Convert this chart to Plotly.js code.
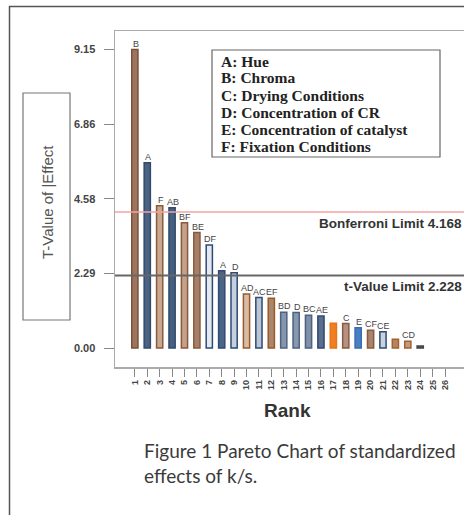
<!DOCTYPE html>
<html>
<head>
<meta charset="utf-8">
<script src="https://cdn.plot.ly/plotly-3.0.1.min.js"></script>
<style>
html,body{margin:0;padding:0;background:#fff;overflow:hidden;}
#chart{width:464px;height:515px;}
</style>
</head>
<body>
<div id="chart"></div>
<script>
// ---- data ----
var ranks = [1,2,3,4,5,6,7,8,9,10,11,12,13,14,15,16,17,18,19,20,21,22,23,24];
var tValues = [9.15,5.68,4.36,4.30,3.84,3.54,3.16,2.37,2.31,1.66,1.55,1.53,1.10,1.09,1.01,0.98,0.76,0.75,0.62,0.55,0.50,0.27,0.21,0.06];
var effectLabels = ["B","A","F","AB","BF","BE","DF","A","D","AD","AC","EF","BD","D","BC","AE","","C","E","CF","CE","","CD",""];
var fillColors = ["#9c7560","#4a6283","#c9a891","#46607f","#c4a18a","#a57f69","#e4e9f0","#4b6587","#c5d0de","#d8bca6","#b9c6d6","#a98670","#8595ab","#8898ae","#7f90a7","#5a6f8d","#f17f22","#b39282","#4a7fc4","#a98470","#c8d2df","#b8835e","#c49a7c","#555555"];
var lineColors = ["#7d5036","#33496a","#8a5a3b","#33496a","#8a5a3b","#8a5a3b","#2f4a74","#2f4a74","#2f4a74","#9a5a2c","#2f4a74","#a0581e","#4e6180","#4e6180","#4e6180","#2f4a74","#e97316","#8a5a3b","#3a6db0","#8a5a3b","#2f4a74","#a0622e","#a0622e","#444444"];
var rankTicks = [1,2,3,4,5,6,7,8,9,10,11,12,13,14,15,16,17,18,19,20,21,22,23,24,25,26];
var yTickVals = [0, 2.29, 4.58, 6.86, 9.15];
var yTickText = ["0.00","2.29","4.58","6.86","9.15"];
var bonferroniLimit = 4.168;
var tValueLimit = 2.228;
var factorKey = ["A: Hue","B: Chroma","C: Drying Conditions","D: Concentration of CR","E: Concentration of catalyst","F: Fixation Conditions"];
var captionLines = ["Figure 1 Pareto Chart of standardized","effects of k/s."];

// ---- geometry helpers (pixel -> paper) ----
var L = 115, R = 464, T = 31, B = 367;
function px(x){ return (x - L) / (R - L); }
function py(y){ return (B - y) / (B - T); }

var trace = {
  type: 'bar',
  x: ranks,
  y: tValues,
  width: 0.5,
  marker: {color: fillColors, line: {color: lineColors, width: 1.5}},
  hoverinfo: 'x+y'
};

var annotations = [];
for (var i = 0; i < ranks.length; i++) {
  if (!effectLabels[i]) continue;
  annotations.push({
    x: ranks[i], y: tValues[i], xref: 'x', yref: 'y',
    text: effectLabels[i], showarrow: false,
    xanchor: 'center', yanchor: 'bottom', xshift: 1, yshift: 0,
    borderpad: 0,
    font: {family: 'Liberation Sans, Arial', size: 9, color: '#444'}
  });
}
// limit labels
annotations.push({
  x: 1, xref: 'paper', y: bonferroniLimit, yref: 'y', xanchor: 'right', yanchor: 'top', yshift: -2,
  text: 'Bonferroni Limit ' + bonferroniLimit, showarrow: false,
  font: {family: 'Liberation Sans, Arial', size: 13.5, color: '#333', weight: 'bold'}
});
annotations.push({
  x: 1, xref: 'paper', y: tValueLimit, yref: 'y', xanchor: 'right', yanchor: 'top', yshift: -2,
  text: 't-Value Limit ' + tValueLimit, showarrow: false,
  font: {family: 'Liberation Sans, Arial', size: 13.5, color: '#333', weight: 'bold'}
});
// factor key
var keyY = [61, 78, 95, 112, 129, 146];
for (var k = 0; k < factorKey.length; k++) {
  annotations.push({
    x: px(219), y: py(keyY[k]), xref: 'paper', yref: 'paper',
    xanchor: 'left', yanchor: 'middle', showarrow: false,
    text: factorKey[k],
    font: {family: 'Liberation Serif, Times New Roman', size: 15.5, color: '#222', weight: 'bold'}
  });
}
// y title
annotations.push({
  x: px(47), y: py(202), xref: 'paper', yref: 'paper', xanchor: 'center', yanchor: 'middle',
  text: 'T-Value of |Effect', textangle: -90, showarrow: false,
  font: {family: 'Liberation Sans, Arial', size: 15, color: '#555'}
});
// x title
annotations.push({
  x: px(287), y: py(410), xref: 'paper', yref: 'paper', xanchor: 'center', yanchor: 'middle',
  text: 'Rank', showarrow: false,
  font: {family: 'Liberation Sans, Arial', size: 19, color: '#333', weight: 'bold'}
});
// caption
var capY = [450, 475];
for (var c = 0; c < captionLines.length; c++) {
  annotations.push({
    x: px(142), y: py(capY[c]), xref: 'paper', yref: 'paper', xanchor: 'left', yanchor: 'middle',
    text: captionLines[c], showarrow: false,
    font: {family: 'Lato, Open Sans', size: 19, color: '#3a3a3a'}
  });
}

var shapes = [
  {type: 'line', xref: 'paper', yref: 'y', x0: 0, x1: 1, y0: bonferroniLimit, y1: bonferroniLimit, line: {color: '#f4a3a3', width: 1.5}},
  {type: 'line', xref: 'paper', yref: 'y', x0: 0, x1: 1, y0: tValueLimit, y1: tValueLimit, line: {color: '#666', width: 2}},
  // key box
  {type: 'rect', xref: 'paper', yref: 'paper', x0: px(212), x1: px(440), y0: py(157), y1: py(50), line: {color: '#666', width: 1.2}},
  // y title box
  {type: 'rect', xref: 'paper', yref: 'paper', x0: px(23), x1: px(70), y0: py(320), y1: py(93), line: {color: '#777', width: 1.2}},
  // outer frame
  {type: 'line', xref: 'paper', yref: 'paper', x0: px(9.5), x1: px(9.5), y0: py(6), y1: py(520), line: {color: '#555', width: 1.5}},
  {type: 'line', xref: 'paper', yref: 'paper', x0: px(9), x1: px(470), y0: py(6.5), y1: py(6.5), line: {color: '#555', width: 1.5}}
];

var layout = {
  width: 464, height: 515,
  margin: {l: L, r: 464 - R, t: T, b: 515 - B, pad: 0},
  paper_bgcolor: '#fff', plot_bgcolor: '#fff',
  showlegend: false,
  bargap: 0.5,
  xaxis: {
    range: [-0.6, 27.53],
    tickmode: 'array', tickvals: rankTicks, ticktext: rankTicks.map(String),
    tickangle: -90, ticks: 'outside', ticklen: 8, tickcolor: '#888', tickwidth: 1,
    tickfont: {family: 'Liberation Sans, Arial', size: 9, color: '#444', weight: 'bold'},
    showline: true, linecolor: '#aaa', linewidth: 1.5, mirror: true,
    showgrid: false, zeroline: false
  },
  yaxis: {
    range: [-0.58, 9.72],
    tickmode: 'array', tickvals: yTickVals, ticktext: yTickText,
    ticks: 'outside', ticklen: 10, tickcolor: '#888', tickwidth: 1,
    ticklabelstandoff: 6,
    tickfont: {family: 'Liberation Sans, Arial', size: 11, color: '#444', weight: 'bold'},
    showline: true, linecolor: '#aaa', linewidth: 1.5,
    showgrid: false, zeroline: false
  },
  annotations: annotations,
  shapes: shapes
};

Plotly.newPlot('chart', [trace], layout, {displayModeBar: false, staticPlot: true});
</script>
</body>
</html>
